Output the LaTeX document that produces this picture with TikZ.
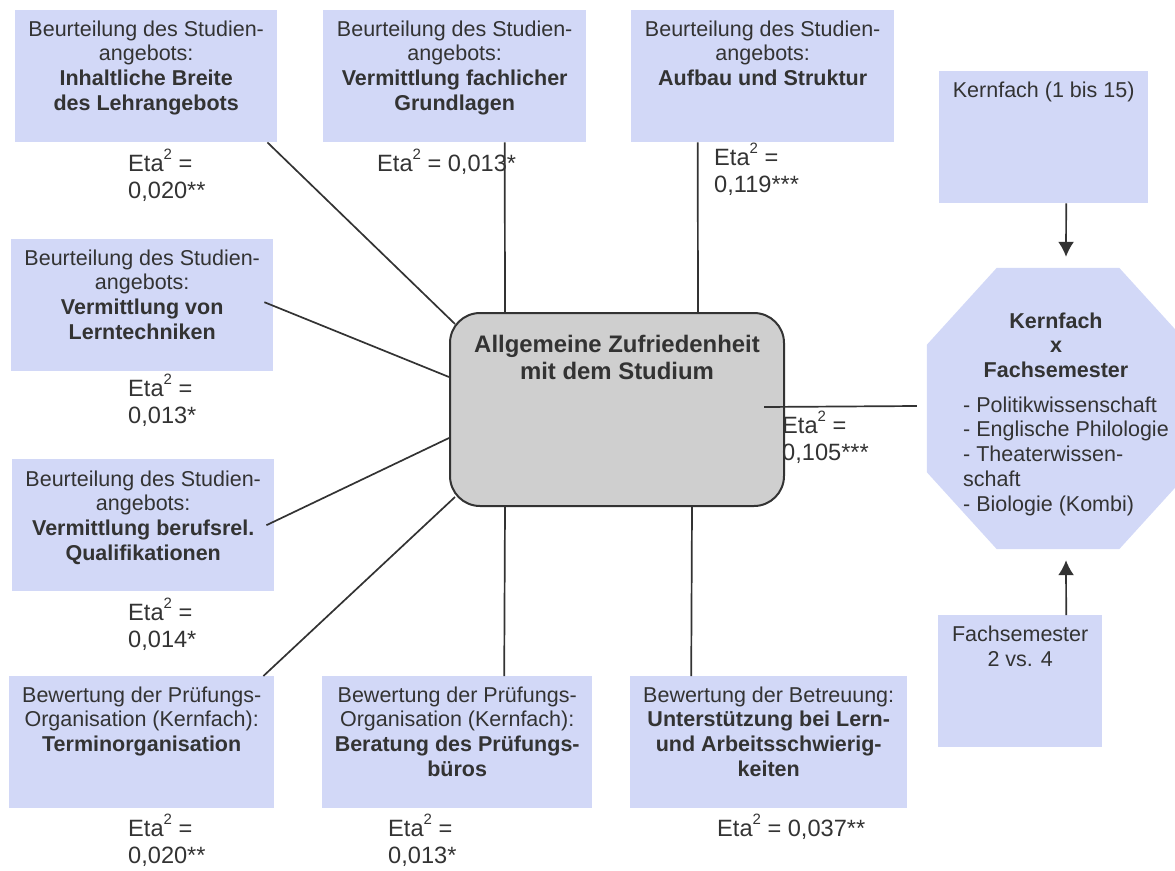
\documentclass[tikz,border=0pt]{standalone}
\usepackage{fontspec}
\setmainfont{Liberation Sans}
\usepackage{tikz}
\usetikzlibrary{arrows.meta,positioning,calc}
\definecolor{kastenblau}{RGB}{210,216,247}
\definecolor{kerngrau}{HTML}{CFCFCF}
\definecolor{textgrau}{HTML}{333333}
\newcommand{\etaq}{Eta\raisebox{12pt}{\fontsize{15}{15}\selectfont 2}}

\begin{document}
\begin{tikzpicture}[
    x=1pt, y=-1pt,
    >={Latex[length=15pt,width=16pt]},
    font=\fontsize{21.5}{24.7}\selectfont,
    text=textgrau,
    kasten/.style={
		rectangle,
		fill=kastenblau,
		anchor=north west,
		inner sep=0pt,
		minimum width=262pt,
		minimum height=132pt
	},
	kastentext/.style={
		anchor=north,
		align=center,
		inner sep=0pt
	},
	mitte/.style={
		rectangle,
		rounded corners=30pt,
		draw=textgrau,
		line width=2pt,
		fill=kerngrau,
		anchor=north west,
		minimum width=334pt,
		minimum height=193pt
	},
	eta/.style={
		anchor=north west,
		align=left,
		inner sep=0pt,
		font=\fontsize{23.6}{27}\selectfont
	},
	linie/.style={
		draw=textgrau,
		line width=1.7pt
	}
  ]
  \useasboundingbox (0,0) rectangle (1175,870);

    % We start by placing the blocks
  \node [kasten] (inhalt) at (15,10) {};
  \node [kastentext] (inhalt-text) at ([yshift=-10.5pt]inhalt.north)
  {Beurteilung des Studien-\\angebots:\\\textbf{Inhaltliche Breite}\\\textbf{des Lehrangebots}};

  \node [kasten, minimum width=263pt] (grundlagen) at (323,10) {};
  \node [kastentext] (grundlagen-text) at ([yshift=-10.5pt]grundlagen.north)
  {Beurteilung des Studien-\\angebots:\\\textbf{Vermittlung fachlicher}\\\textbf{Grundlagen}};

  \node [kasten, minimum width=263pt] (aufbau) at (631,10) {};
  \node [kastentext] (aufbau-text) at ([yshift=-10.5pt]aufbau.north)
  {Beurteilung des Studien-\\angebots:\\\textbf{Aufbau und Struktur}};

  \node [kasten, minimum width=209pt] (kernfach) at (939,71) {};
  \node [kastentext] (kernfach-text) at ([yshift=-10.5pt]kernfach.north)
  {Kernfach (1 bis 15)};

  \node [kasten] (lerntech) at (11,239) {};
  \node [kastentext] (lerntech-text) at ([yshift=-10.5pt]lerntech.north)
  {Beurteilung des Studien-\\angebots:\\\textbf{Vermittlung von}\\\textbf{Lerntechniken}};

  \node [kasten] (beruf) at (12,459) {};
  \node [kastentext] (beruf-text) at ([yshift=-11.5pt]beruf.north)
  {Beurteilung des Studien-\\angebots:\\\textbf{Vermittlung berufsrel.}\\\textbf{Qualifikationen}};

  \node [kasten, minimum width=265pt] (termin) at (9,676) {};
  \node [kastentext] (termin-text) at ([yshift=-10.5pt]termin.north)
  {Bewertung der Prüfungs-\\Organisation (Kernfach):\\\textbf{Terminorganisation}};

  \node [kasten, minimum width=270pt] (beratung) at (322,676) {};
  \node [kastentext] (beratung-text) at ([yshift=-10.5pt]beratung.north)
  {Bewertung der Prüfungs-\\Organisation (Kernfach):\\\textbf{Beratung des Prüfungs-}\\\textbf{büros}};

  \node [kasten, minimum width=277pt] (betreuung) at (630,676) {};
  \node [kastentext] (betreuung-text) at ([yshift=-10.5pt]betreuung.north)
  {Bewertung der Betreuung:\\\textbf{Unterstützung bei Lern-}\\\textbf{und Arbeitsschwierig-}\\\textbf{keiten}};

  \node [kasten, minimum width=164pt] (fachsem) at (938,615) {};
  \node [kastentext] (fachsem-text) at ([yshift=-11pt]fachsem.north)
  {Fachsemester\\2 vs. 4};

  % the center
  \node [mitte] (zufrieden) at (449,312) {};
  \node [kastentext, font=\bfseries\fontsize{23.9}{27.3}\selectfont] (zufrieden-text)
  at ([yshift=-23pt]zufrieden.north) {Allgemeine Zufriedenheit\\mit dem Studium};

  % the octagon on the right
  \node [minimum width=262pt, minimum height=281pt, inner sep=0pt] (okt) at (1058,408.5) {};
  \fill [kastenblau] ([xshift=70pt]okt.north west) -- ([xshift=-70pt]okt.north east)
    -- ([yshift=-77pt]okt.north east) -- ([yshift=77pt]okt.south east)
    -- ([xshift=-70pt]okt.south east) -- ([xshift=70pt]okt.south west)
    -- ([yshift=77pt]okt.south west) -- ([yshift=-77pt]okt.north west) -- cycle;
  \node [kastentext, font=\bfseries\fontsize{21.5}{24.5}\selectfont] (okt-titel)
  at ([shift={(-2pt,-44.5pt)}]okt.north) {Kernfach\\x\\Fachsemester};
  \node [anchor=north west, align=left, inner sep=0pt] (okt-liste) at (963,396.5)
  {- Politikwissenschaft\\- Englische Philologie\\- Theaterwissen-\\schaft\\- Biologie (Kombi)};

  % the values
  \node [eta] (eta-inhalt) at (128,149.3) {\etaq{} =\\0,020**};
  \node [eta] (eta-grundlagen) at (377,149.3) {\etaq{} = 0,013*};
  \node [eta] (eta-aufbau) at (714,143.3) {\etaq{} =\\0,119***};
  \node [eta] (eta-lerntech) at (128,374.3) {\etaq{} =\\0,013*};
  \node [eta] (eta-beruf) at (128,598.3) {\etaq{} =\\0,014*};
  \node [eta] (eta-okt) at (782,411.3) {\etaq{} =\\0,105***};
  \node [eta] (eta-termin) at (128,814.3) {\etaq{} =\\0,020**};
  \node [eta] (eta-beratung) at (388,814.3) {\etaq{} =\\0,013*};
  \node [eta] (eta-betreuung) at (717,814.3) {\etaq{} = 0,037**};

 \draw [linie] ([xshift=-10pt]inhalt.south east) -- ([shift={(6pt,-12pt)}]zufrieden.north west);
 \draw [linie] ([xshift=50pt]grundlagen.south) -- ([xshift=-112pt]zufrieden.north);
 \draw [linie] ([xshift=-65pt]aufbau.south) -- ([xshift=81pt]zufrieden.north);
 \draw [linie] ([shift={(-9pt,3pt)}]lerntech.east) -- ([yshift=32.5pt]zufrieden.west);
 \draw [linie] ([xshift=-8pt]beruf.east) -- ([yshift=-28.5pt]zufrieden.west);
 \draw [linie] ([xshift=-11pt]termin.north east) -- ([shift={(6pt,10pt)}]zufrieden.south west);
 \draw [linie] ([xshift=47pt]beratung.north) -- ([xshift=-112pt]zufrieden.south);
 \draw [linie] ([xshift=-77.5pt]betreuung.north) -- ([xshift=75pt]zufrieden.south);
 \draw [linie] ([shift={(-21pt,2.5pt)}]zufrieden.east) -- ([shift={(-10pt,2.5pt)}]okt.west);
 \draw [linie,->] ([xshift=22.5pt]kernfach.south) -- ([shift={(8pt,11pt)}]okt.north);
 \draw [linie,->] ([xshift=46pt]fachsem.north) -- ([shift={(8pt,-11pt)}]okt.south);

\end{tikzpicture}
\end{document}
